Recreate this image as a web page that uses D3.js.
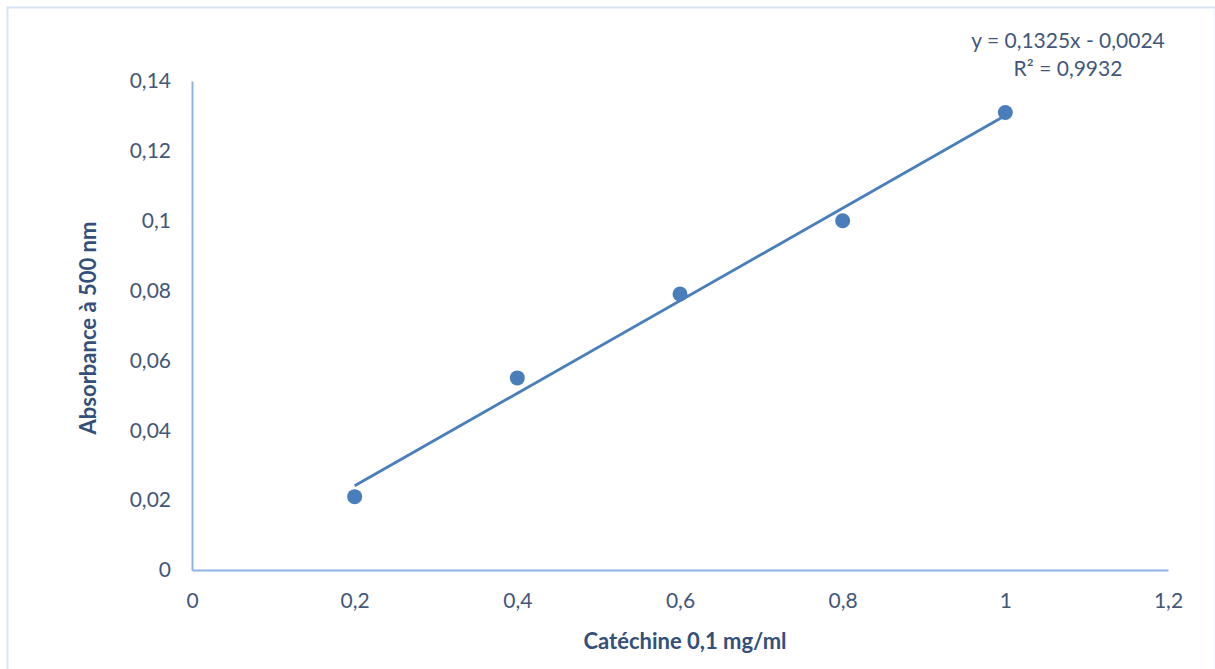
<!DOCTYPE html>
<html>
<head>
<meta charset="utf-8">
<script src="https://cdn.jsdelivr.net/npm/d3@7/dist/d3.min.js"></script>
<style>
  html, body { margin: 0; padding: 0; background: #fff; }
  svg { display: block; }
</style>
</head>
<body>
<svg id="chart" width="1215" height="669"></svg>
<script>
// Catechin calibration: concentration vs absorbance at 500 nm
const concentrations = [0.2, 0.4, 0.6, 0.8, 1.0];
const absorbances = [0.021, 0.055, 0.079, 0.100, 0.131];
const xTicks = [0, 0.2, 0.4, 0.6, 0.8, 1.0, 1.2];
const yTicks = [0, 0.02, 0.04, 0.06, 0.08, 0.10, 0.12, 0.14];
const fitSlope = 0.1325;
const fitIntercept = -0.0024;
const fitR2 = 0.9932;

const textColor = "#42577A";
const titleColor = "#34507A";
const axisColor = "#8DB3E2";
const markColor = "#4A7EBB";
const font = "Lato, 'Open Sans', sans-serif";

const svg = d3.select("#chart");
const W = 1215, H = 669;

const fr = n => String(n).replace(".", ",");

// outer frame
svg.append("rect")
  .attr("x", 7.5).attr("y", 7.5)
  .attr("width", W - 7).attr("height", H)
  .attr("fill", "#fff")
  .attr("stroke", "#D6E4F5").attr("stroke-width", 2);

const x = d3.scaleLinear().domain([0, 1.2]).range([192, 1168]);
const y = d3.scaleLinear().domain([0, 0.14]).range([570, 81]);

// axes
const xAxis = svg.append("g").attr("transform", `translate(0,${y(0)})`)
  .call(d3.axisBottom(x).tickValues(xTicks).tickSize(0).tickPadding(23)
    .tickFormat(d => fr(+d.toFixed(1))));
const yAxis = svg.append("g").attr("transform", `translate(${x(0)},0)`)
  .call(d3.axisLeft(y).tickValues(yTicks).tickSize(0).tickPadding(21)
    .tickFormat(d => fr(+d.toFixed(2))));

[xAxis, yAxis].forEach(g => {
  g.select(".domain").attr("stroke", axisColor).attr("stroke-width", 2);
  g.selectAll("text")
    .attr("fill", textColor)
    .style("font-family", font)
    .style("font-size", "21px");
});
xAxis.selectAll("text").attr("dy", "0.71em");

// trendline over the measured range
const fitX = d3.extent(concentrations);
svg.append("line")
  .attr("x1", x(fitX[0])).attr("y1", y(fitSlope * fitX[0] + fitIntercept))
  .attr("x2", x(fitX[1])).attr("y2", y(fitSlope * fitX[1] + fitIntercept))
  .attr("stroke", markColor).attr("stroke-width", 2.8);

// data points
svg.append("g").selectAll("circle")
  .data(concentrations.map((c, i) => [c, absorbances[i]]))
  .join("circle")
  .attr("cx", d => x(d[0])).attr("cy", d => y(d[1]))
  .attr("r", 7.5)
  .attr("fill", markColor);

// axis titles
svg.append("text")
  .attr("x", 685).attr("y", 649)
  .attr("text-anchor", "middle")
  .attr("fill", titleColor)
  .style("font-family", font).style("font-size", "22px").style("font-weight", "bold")
  .text("Catéchine 0,1 mg/ml");

svg.append("text")
  .attr("transform", `translate(96,328) rotate(-90)`)
  .attr("text-anchor", "middle")
  .attr("fill", titleColor)
  .style("font-family", font).style("font-size", "22px").style("font-weight", "bold")
  .text("Absorbance à 500 nm");

// regression label
const eq = svg.append("text")
  .attr("text-anchor", "middle")
  .attr("fill", textColor)
  .style("font-family", font).style("font-size", "21px");
eq.append("tspan").attr("x", 1068).attr("y", 48)
  .text(`y = ${fr(fitSlope)}x - ${fr(Math.abs(fitIntercept))}`);
eq.append("tspan").attr("x", 1068).attr("y", 76)
  .text(`R² = ${fr(fitR2)}`);
</script>
</body>
</html>
